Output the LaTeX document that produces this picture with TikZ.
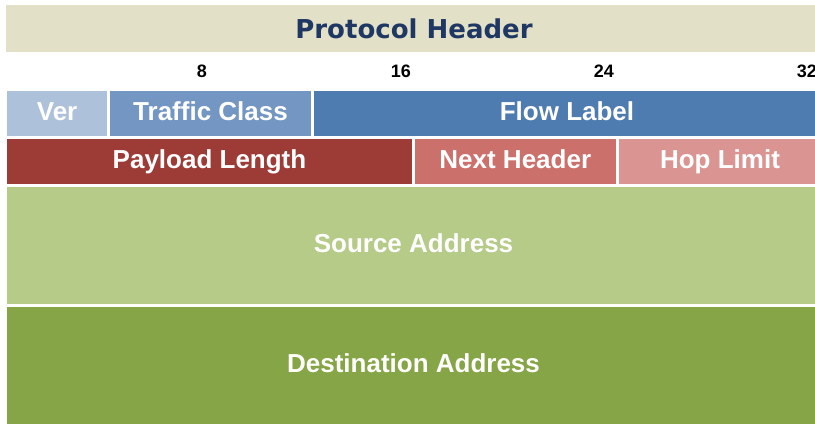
\documentclass[tikz,border=0pt]{standalone}
\usepackage{fontspec}
\setmainfont{Liberation Sans}
\newfontfamily\titlefont{DejaVu Sans}
\definecolor{bandbg}{HTML}{E2E0C7}
\definecolor{titlecol}{HTML}{1F3763}
\definecolor{vercol}{HTML}{ADC1DB}
\definecolor{tccol}{HTML}{7396C2}
\definecolor{flcol}{HTML}{4F7CB0}
\definecolor{plcol}{HTML}{9D3B36}
\definecolor{nhcol}{HTML}{CC706B}
\definecolor{hlcol}{HTML}{DA9593}
\definecolor{srccol}{HTML}{B6CB88}
\definecolor{dstcol}{HTML}{86A546}
\tikzset{
  field/.style={draw=none, text=white, font=\bfseries\fontsize{26}{30}\selectfont, inner sep=0pt, text height=18.6pt, text depth=0pt},
  tick/.style={anchor=east, font=\bfseries\fontsize{18}{21}\selectfont, inner sep=0pt, text height=12.9pt, text depth=0pt}
}
\begin{document}
\begin{tikzpicture}[x=1pt,y=-1pt]
\useasboundingbox (0,0) rectangle (815,424);
\begin{scope}
\clip (0,0) rectangle (815,424);
% header band
\fill[bandbg] (6,5) rectangle (822,52);
\node[font=\titlefont\bfseries\fontsize{26}{30}\selectfont, text=titlecol, inner sep=0pt, text height=19pt, text depth=0pt] (title) at (414,29) {Protocol Header};
% ticks
\node[tick] (t8) at (207,71.5) {8};
\node[tick] (t16) at (411,71.5) {16};
\node[tick] (t24) at (614,71.5) {24};
\node[tick] (t32) at (817,71.5) {32};
% row 1
\fill[vercol] (7,90.5) rectangle (107.2,135.5);
\fill[tccol] (110.2,90.5) rectangle (310.8,135.5);
\fill[flcol] (313.8,90.5) rectangle (822,135.5);
\node[field] (ver) at (57.1,111.5) {Ver};
\node[field] (tc) at (210.5,111.5) {Traffic Class};
\node[field] (fl) at (567,111.5) {Flow Label};
% row 2
\fill[plcol] (7,138.5) rectangle (412,183.5);
\fill[nhcol] (415,138.5) rectangle (615.7,183.5);
\fill[hlcol] (618.7,138.5) rectangle (822,183.5);
\node[field] (pl) at (209.5,159) {Payload Length};
\node[field] (nh) at (515.3,159) {Next Header};
\node[field] (hl) at (720,159) {Hop Limit};
% addresses
\fill[srccol] (7,186.5) rectangle (822,303.5);
\fill[dstcol] (7,306.5) rectangle (822,423.5);
\node[field] (src) at (413.5,243) {Source Address};
\node[field] (dst) at (413.5,363) {Destination Address};
\end{scope}
\end{tikzpicture}
\end{document}
